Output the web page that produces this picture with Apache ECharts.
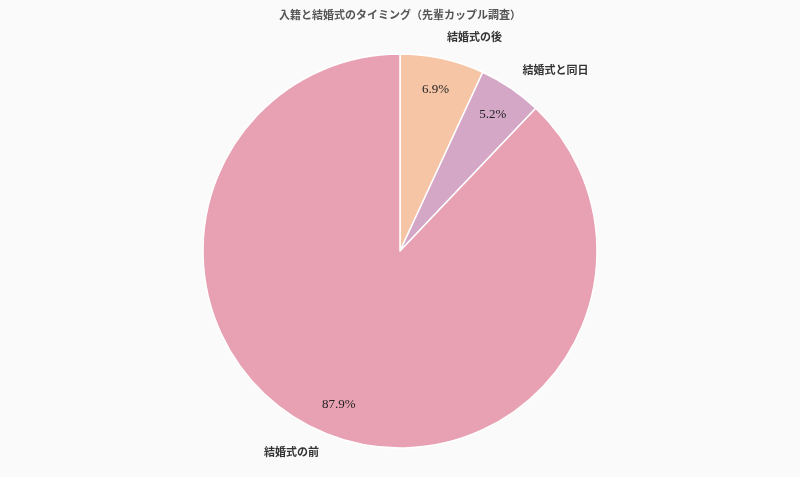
<!DOCTYPE html>
<html>
<head>
<meta charset="utf-8">
<script src="https://cdn.jsdelivr.net/npm/echarts@6/dist/echarts.min.js"></script>
<style>
  html, body { margin: 0; padding: 0; background: #fafafa; }
  #main { width: 800px; height: 477px; }
</style>
</head>
<body>
<div id="main"></div>
<script>
var titleText = '入籍と結婚式のタイミング（先輩カップル調査）'
var names = ['結婚式の後', '結婚式と同日', '結婚式の前']
var shares = [6.9, 5.2, 87.9]
var colors = ['#f5c5a5', '#d4a7c7', '#e8a0b3']

var font = "'Liberation Serif', 'DejaVu Serif', 'Noto Sans CJK JP', serif"
var myChart = echarts.init(document.getElementById('main'))

let slices = names.map(function(n, i) {
    return { name: n, value: shares[i], itemStyle: { color: colors[i] } }
})

let option = {
    backgroundColor: '#fafafa',
    title: {
        text: titleText,
        left: 'center',
        top: 6,
        textStyle: { fontFamily: font, fontSize: 11, fontWeight: 'bold', color: '#555' }
    },
    series: [
        {
            type: 'pie',
            center: [400, 251],
            radius: 197,
            startAngle: 90,
            clockwise: true,
            avoidLabelOverlap: false,
            silent: true,
            data: slices,
            itemStyle: { borderColor: '#fff', borderWidth: 1.5 },
            label: {
                show: true,
                position: 'outside',
                formatter: '{b}',
                distanceToLabelLine: 0,
                fontFamily: font,
                fontSize: 11,
                fontWeight: 'bold',
                color: '#333'
            },
            labelLine: { show: false, length: 21, length2: 0 }
        },
        {
            // ring only used to place the percentages
            type: 'pie',
            center: [400, 251],
            radius: [127, 197],
            startAngle: 90,
            clockwise: true,
            silent: true,
            data: names.map(function(n, i) {
                return { name: n, value: shares[i] }
            }),
            itemStyle: { color: 'rgba(0,0,0,0)' },
            label: {
                show: true,
                position: 'inside',
                formatter: '{c}%',
                fontFamily: font,
                fontSize: 13,
                color: '#222'
            },
            labelLine: { show: false }
        }
    ]
}
myChart.setOption(option)
</script>
</body>
</html>
